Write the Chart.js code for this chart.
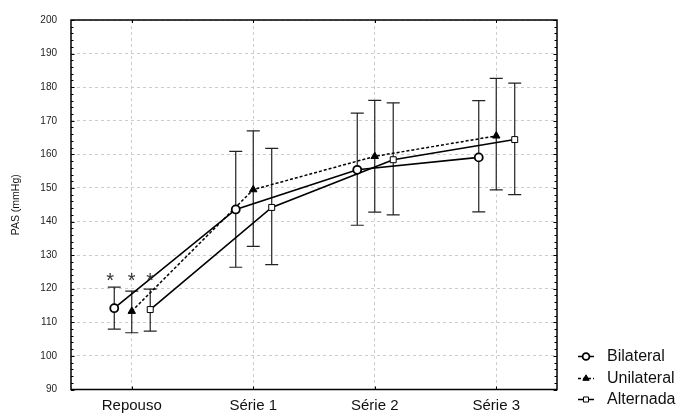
<!DOCTYPE html>
<html>
<head>
<meta charset="utf-8">
<script src="https://cdn.jsdelivr.net/npm/chart.js@4/dist/chart.umd.min.js"></script>
<style>
html,body{margin:0;padding:0;background:#fff;}
#wrap{position:relative;width:681px;height:413px;}
</style>
</head>
<body>
<div id="wrap"><canvas id="c" width="681" height="413"></canvas></div>
<script>
const categories = ['Repouso', 'Série 1', 'Série 2', 'Série 3'];
const seriesNames = ['Bilateral', 'Unilateral', 'Alternada'];

const bilateralMean  = [114.2, 143.6, 155.4, 159.1];
const bilateralUpper = [120.5, 160.9, 172.3, 176.0];
const bilateralLower = [108.0, 126.4, 138.9, 142.9];

const unilateralMean  = [113.3, 149.5, 159.4, 165.5];
const unilateralUpper = [119.3, 167.0, 176.1, 182.6];
const unilateralLower = [106.9, 132.6, 142.8, 149.4];

const alternadaMean  = [113.8, 144.2, 158.4, 164.4];
const alternadaUpper = [119.9, 161.8, 175.3, 181.2];
const alternadaLower = [107.4, 127.2, 142.0, 148.0];

const significanceMarks = ['*', '', '', ''];
const significanceLevel = 124.2;

const yMin = 90, yMax = 200, yStep = 10, yMinorStep = 2;

const FONT = "'Liberation Sans', Arial, Helvetica, sans-serif";
const offsets = [-0.144, 0, 0.152];
const starShift = [-4, 0, 0];
const means = [bilateralMean, unilateralMean, alternadaMean];
const uppers = [bilateralUpper, unilateralUpper, alternadaUpper];
const lowers = [bilateralLower, unilateralLower, alternadaLower];

function pts(arr, off) { return arr.map((v, i) => ({ x: i + off, y: v })); }

const styles = [
  { pointStyle: 'circle', pointRadius: 4, pointBackgroundColor: '#fff', pointBorderWidth: 1.8, borderDash: [] , borderWidth: 1.6},
  { pointStyle: 'triangle', pointRadius: 4.3, pointBackgroundColor: '#000', pointBorderWidth: 1, borderDash: [3, 2], borderWidth: 1.5 },
  { pointStyle: 'rect', pointRadius: 4.2, pointBackgroundColor: '#fff', pointBorderWidth: 1, borderDash: [], borderWidth: 1.6 }
];

const datasets = seriesNames.map((name, s) => ({
  label: name,
  data: pts(means[s], offsets[s]),
  borderColor: '#000',
  pointBorderColor: '#000',
  showLine: true,
  tension: 0,
  ...styles[s]
}));

const decor = {
  id: 'decor',
  beforeDatasetsDraw(chart) {
    const ctx = chart.ctx, xs = chart.scales.x, ys = chart.scales.y;
    ctx.save();
    ctx.strokeStyle = '#222';
    ctx.lineWidth = 1.2;
    ctx.setLineDash([]);
    for (let s = 0; s < 3; s++) {
      for (let i = 0; i < categories.length; i++) {
        const x = xs.getPixelForValue(i + offsets[s]);
        const yt = ys.getPixelForValue(uppers[s][i]);
        const yb = ys.getPixelForValue(lowers[s][i]);
        ctx.beginPath();
        ctx.moveTo(x, yt); ctx.lineTo(x, yb);
        ctx.moveTo(x - 6.5, yt); ctx.lineTo(x + 6.5, yt);
        ctx.moveTo(x - 6.5, yb); ctx.lineTo(x + 6.5, yb);
        ctx.stroke();
      }
    }
    ctx.restore();
  },
  afterDraw(chart) {
    const ctx = chart.ctx, xs = chart.scales.x, ys = chart.scales.y;
    const a = chart.chartArea;
    ctx.save();
    ctx.setLineDash([]);
    ctx.strokeStyle = '#000';
    ctx.lineWidth = 1;
    for (let v = yMin; v <= yMax; v += yMinorStep) {
      const y = Math.round(ys.getPixelForValue(v)) + 0.5;
      const len = (v % yStep === 0) ? 3.5 : 2.5;
      ctx.beginPath();
      ctx.moveTo(a.left, y); ctx.lineTo(a.left + len, y);
      ctx.moveTo(a.right, y); ctx.lineTo(a.right - len, y);
      ctx.stroke();
    }
    for (let i = 0; i < categories.length; i++) {
      const x = Math.round(xs.getPixelForValue(i)) + 0.5;
      ctx.beginPath();
      ctx.moveTo(x, a.bottom); ctx.lineTo(x, a.bottom - 3);
      ctx.moveTo(x, a.top); ctx.lineTo(x, a.top + 3);
      ctx.stroke();
    }
    ctx.lineWidth = 1.5;
    ctx.strokeRect(a.left, a.top, a.right - a.left, a.bottom - a.top);
    // significance marks
    ctx.fillStyle = '#333';
    ctx.font = '20px ' + FONT;
    ctx.textAlign = 'center';
    ctx.textBaseline = 'alphabetic';
    for (let s = 0; s < 3; s++) {
      for (let i = 0; i < categories.length; i++) {
        if (!significanceMarks[i]) continue;
        const x = xs.getPixelForValue(i + offsets[s]) + starShift[s];
        const y = ys.getPixelForValue(significanceLevel);
        ctx.fillText(significanceMarks[i], x, y + 12);
      }
    }
    // legend
    const rowsY = [356.5, 378.5, 399.5];
    const lx0 = 578, lx1 = 594, lm = 586;
    ctx.textAlign = 'left';
    ctx.textBaseline = 'middle';
    ctx.font = '16px ' + FONT;
    for (let s = 0; s < 3; s++) {
      const y = rowsY[s];
      const st = styles[s];
      ctx.strokeStyle = '#000';
      ctx.lineWidth = 1.5;
      ctx.setLineDash(st.borderDash);
      ctx.beginPath(); ctx.moveTo(lx0, y); ctx.lineTo(lx1, y); ctx.stroke();
      ctx.setLineDash([]);
      Chart.helpers.drawPoint(ctx, {
        pointStyle: st.pointStyle, radius: st.pointRadius * 0.85, rotation: 0, borderWidth: st.pointBorderWidth
      }, lm, y);
      ctx.fillStyle = '#111';
      ctx.fillText(seriesNames[s], 607, y + 0.5);
    }
    ctx.restore();
  }
};

Chart.helpers.drawPoint = (function(orig){
  return function(ctx, options, x, y) {
    ctx.save();
    const st = styles.find(s => s.pointStyle === options.pointStyle) || styles[0];
    ctx.fillStyle = st.pointBackgroundColor;
    ctx.strokeStyle = '#000';
    ctx.lineWidth = options.borderWidth;
    ctx.setLineDash([]);
    orig(ctx, options, x, y);
    ctx.restore();
  };
})(Chart.helpers.drawPoint);

new Chart(document.getElementById('c'), {
  type: 'scatter',
  data: { datasets },
  plugins: [decor],
  options: {
    responsive: false,
    animation: false,
    events: [],
    layout: { padding: { left: 0, right: 124, top: 19, bottom: 0 } },
    plugins: { legend: { display: false }, tooltip: { enabled: false } },
    scales: {
      x: {
        type: 'linear',
        min: -0.5, max: 3.5,
        afterBuildTicks(scale) { scale.ticks = categories.map((c, i) => ({ value: i })); },
        afterFit(scale) { scale.height = 23.5; },
        ticks: {
          callback: (v) => categories[v] ?? '',
          color: '#111',
          font: { family: FONT, size: 15 },
          padding: 7,
          maxRotation: 0,
          autoSkip: false
        },
        grid: { color: '#cccccc', lineWidth: 1, drawTicks: false },
        border: { display: false, dash: [3, 3] }
      },
      y: {
        type: 'linear',
        min: yMin, max: yMax,
        ticks: { stepSize: yStep, color: '#222', font: { family: FONT, size: 10 }, padding: 14 },
        afterFit(scale) { scale.width = 71; },
        grid: { color: '#cccccc', lineWidth: 1, drawTicks: false },
        border: { display: false, dash: [3, 3] },
        title: { display: true, text: 'PAS (mmHg)', color: '#111', font: { family: FONT, size: 10.5 }, padding: { top: 10, bottom: 4 } }
      }
    }
  }
});
</script>
</body>
</html>
